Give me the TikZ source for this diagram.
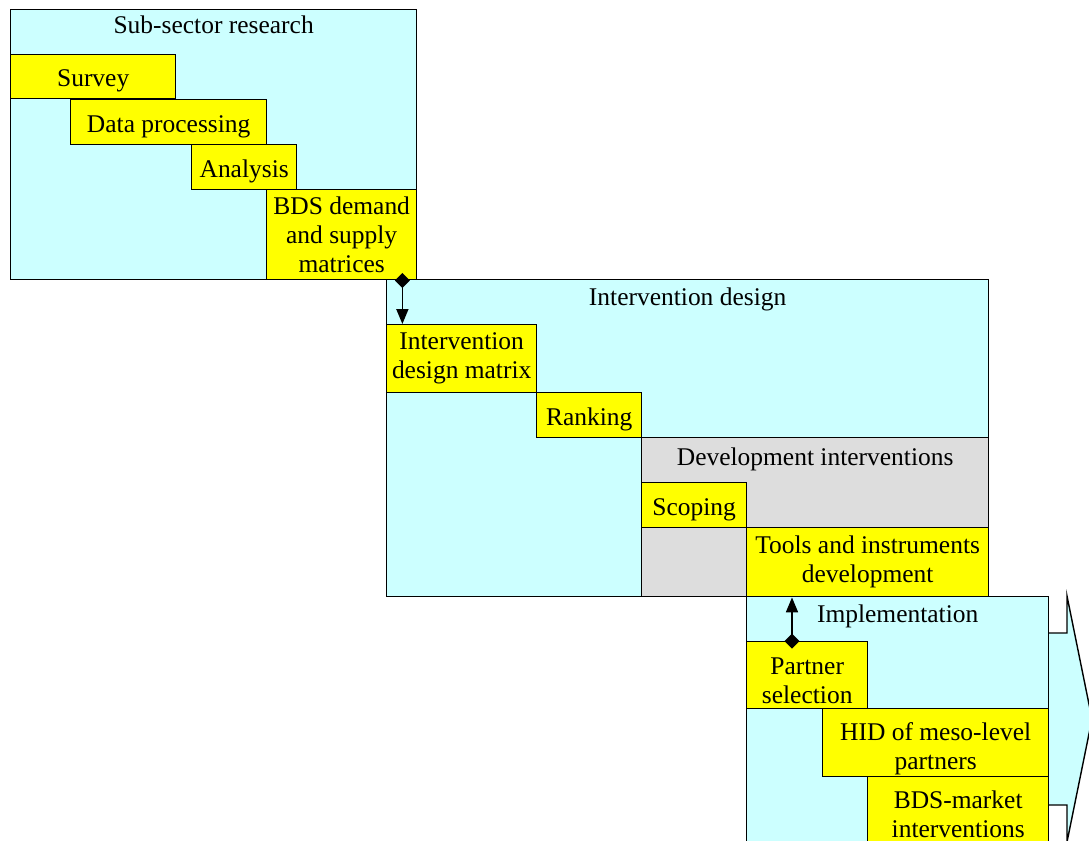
\documentclass[tikz,border=0pt]{standalone}
\usepackage{fontspec}
\setmainfont{Liberation Serif}
\usepackage{xcolor}
\usetikzlibrary{arrows.meta,positioning}

\definecolor{phasecyan}{HTML}{CCFFFF}
\definecolor{taskyellow}{HTML}{FFFF00}
\definecolor{subgray}{HTML}{DDDDDD}

\tikzset{
  phase/.style={draw, fill=phasecyan, line width=0.8pt, anchor=north west, inner sep=0pt},
  subphase/.style={phase, fill=subgray},
  task/.style={draw, fill=taskyellow, line width=0.8pt, anchor=north west, inner sep=0pt},
  tasktext/.style={inner sep=0pt, align=center},
  title/.style={inner sep=0pt},
  link/.style={line width=1pt, {Diamond[length=0.3cm,width=0.3cm]}-{Triangle[length=0.3cm,width=0.24cm]}}
}

\begin{document}
\begin{tikzpicture}[x=0.02cm, y=-0.02cm, font=\fontsize{14.5}{16.5}\selectfont]
  \useasboundingbox (0,0) rectangle (1089,840);
  \clip (0,0) rectangle (1089,840);
  % Sub-sector research
  \node[phase, minimum width=8.12cm, minimum height=5.4cm] (research) at (10,9) {};
  \node[title] (researchtitle) at ([yshift=-0.32cm]research.north) {Sub-sector research};
  \node[task, minimum width=3.3cm, minimum height=0.88cm] (survey) at (10,54) {};
  \node[tasktext] (surveytext) at ([yshift=-0.08cm]survey.center) {Survey};
  \node[task, minimum width=3.92cm, minimum height=0.9cm] (dataproc) at (70,99) {};
  \node[tasktext] (dataproctext) at ([yshift=-0.1cm]dataproc.center) {Data processing};
  \node[task, minimum width=2.1cm, minimum height=0.9cm] (analysis) at (191,144) {};
  \node[tasktext] (analysistext) at ([yshift=-0.08cm]analysis.center) {Analysis};
  % Intervention design
  \node[phase, minimum width=12.04cm, minimum height=6.34cm] (design) at (386,279) {};
  \node[title] (designtitle) at ([yshift=-0.4cm]design.north) {Intervention design};
  \node[task, minimum width=3.0cm, minimum height=1.8cm] (matrices) at (266,189) {};
  \node[tasktext] (matricestext) at (matrices.center) {BDS demand\\and supply\\matrices};
  \node[task, minimum width=3.0cm, minimum height=1.36cm] (designmatrix) at (386,324) {};
  \node[tasktext] (designmatrixtext) at (designmatrix.center) {Intervention\\design matrix};
  \node[task, minimum width=2.1cm, minimum height=0.9cm] (ranking) at (536,392) {};
  \node[tasktext] (rankingtext) at ([yshift=-0.08cm]ranking.center) {Ranking};
  % Development interventions
  \node[subphase, minimum width=6.94cm, minimum height=3.18cm] (devint) at (641,437) {};
  \node[title] (devinttitle) at ([yshift=-0.44cm]devint.north) {Development interventions};
  \node[task, minimum width=2.1cm, minimum height=0.9cm] (scoping) at (641,482) {};
  \node[tasktext] (scopingtext) at ([yshift=-0.1cm]scoping.center) {Scoping};
  \node[task, minimum width=4.84cm, minimum height=1.38cm] (tools) at (746,527) {};
  \node[tasktext] (toolstext) at (tools.center) {Tools and instruments\\development};
  % Implementation
  \fill[phasecyan, draw=black, line width=0.8pt] (1048,633) -- (1067,633) -- (1067,596) -- (1092,719)
    -- (1067,842) -- (1067,805) -- (1048,805);
  \node[phase, minimum width=6.04cm, minimum height=5.4cm] (implement) at (746,596) {};
  \node[title] (implementtitle) at ([yshift=-0.4cm]implement.north) {Implementation};
  \node[task, minimum width=2.42cm, minimum height=1.34cm] (partner) at (746,641) {};
  \node[tasktext] (partnertext) at ([yshift=-0.12cm]partner.center) {Partner\\selection};
  \node[task, minimum width=4.52cm, minimum height=1.36cm] (hid) at (822,708) {};
  \node[tasktext] (hidtext) at ([yshift=-0.12cm]hid.center) {HID of meso-level\\partners};
  \node[task, minimum width=3.62cm, minimum height=1.4cm] (market) at (867,776) {};
  \node[tasktext] (markettext) at ([yshift=-0.06cm]market.center) {BDS-market\\interventions};
  % links
  \coordinate (out1) at ([xshift=-0.3cm]matrices.south east);
  \coordinate (out2) at ([xshift=0.92cm]partner.north west);
  \draw[link, shorten <=-0.15cm] (out1) -- (out1 |- designmatrix.north);
  \draw[link, shorten <=-0.15cm] (out2) -- (out2 |- tools.south);
\end{tikzpicture}
\end{document}
